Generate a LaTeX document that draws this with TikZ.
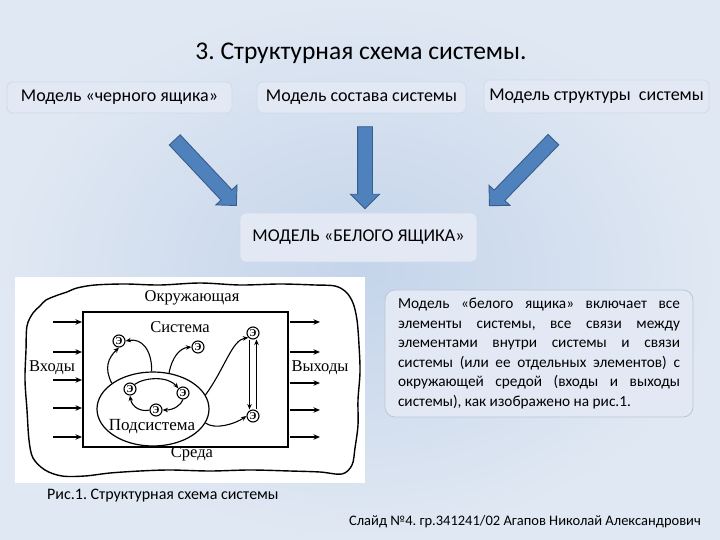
\documentclass[tikz,border=0pt]{standalone}
\usepackage{fontspec}
\setmainfont{Carlito}
\newfontfamily\figfont{Liberation Serif}
\usetikzlibrary{shapes.geometric,shapes.arrows,arrows.meta}
\definecolor{bgin}{RGB}{196,212,234}
\definecolor{bgout}{RGB}{224,232,243}
\definecolor{boxfill}{RGB}{226,233,244}
\definecolor{boxline}{RGB}{208,218,233}
\definecolor{descline}{RGB}{188,198,214}
\definecolor{arrfill}{RGB}{79,129,189}
\definecolor{arrline}{RGB}{56,93,138}
\frenchspacing
\begin{document}
\begin{tikzpicture}[x=1pt,y=-1pt,
  modelbox/.style={draw=boxline, fill=boxfill, rounded corners=6pt, line width=0.8pt, inner sep=0pt, font=\fontsize{18}{21}\selectfont},
  bigarrow/.style={single arrow, draw=arrline, fill=arrfill, line width=0.9pt, inner xsep=0pt, inner ysep=7pt, single arrow head extend=7pt, single arrow tip angle=90},
  figtext/.style={inner sep=0pt, font=\figfont\fontsize{16.5}{17}\selectfont},
  elem/.style={circle, draw, line width=1.1pt, minimum size=12pt, inner sep=0pt, font=\figfont\bfseries\fontsize{10.5}{10.5}\selectfont},
  fline/.style={line width=1.1pt, -{Stealth[length=5.5pt,width=4.5pt]}},
  inarrow/.style={line width=1.3pt, -{Stealth[length=6.5pt,width=5.5pt]}}
]
\useasboundingbox (0,0) rectangle (720,540);
\shade[inner color=bgin, outer color=bgout] (0,0) rectangle (720,540);

% title and model boxes
\node[font=\fontsize{25.5}{30}\selectfont] (title) at (361,53) {3. Структурная схема системы.};
\node[modelbox, minimum width=225pt, minimum height=31pt] (m1) at (119.5,97.5) {Модель «черного ящика»};
\node[modelbox, minimum width=209pt, minimum height=31pt] (m2) at (361.5,97.5) {Модель состава системы};
\node[modelbox, minimum width=225pt, minimum height=33pt] (m3) at (596.5,96.5) {Модель структуры\ \ системы};
\node[modelbox, minimum width=237pt, minimum height=49pt] (white) at (358.5,237.5) {МОДЕЛЬ «БЕЛОГО ЯЩИКА»};

% block arrows
\node[bigarrow, minimum height=90pt, rotate=-46.8] (a1) at (203,170) {};
\node[bigarrow, minimum height=82pt, rotate=-90] (a2) at (365,164) {};
\node[bigarrow, minimum height=92pt, rotate=-134.1] (a3) at (524,170) {};

% description
\node[draw=descline, fill=boxfill, rounded corners=10pt, line width=0.8pt,
      minimum width=308pt, minimum height=127pt, inner sep=0pt,
      text width=282pt, align=justify, font=\fontsize{15.3}{19.6}\selectfont] (desc) at (539,353.5)
{\noindent Модель «белого ящика» включает все\linebreak
элементы системы, все связи между\linebreak
элементами внутри системы и связи\linebreak
системы (или ее отдельных элементов) с\linebreak
окружающей средой (входы и выходы\linebreak
системы), как изображено на рис.1.};

% figure
\fill[white] (15,277) rectangle (365,483);
\draw[line width=1.4pt] plot[smooth cycle, tension=0.55] coordinates {
 (27,326) (33,313) (40,306) (46,300) (58,295) (67,292) (77,288) (95,285) (125,284)
 (160,285) (200,283) (240,285) (280,284) (315,285) (335,286) (346,292) (353,303)
 (357,320) (359,345) (360,372) (358,400) (358,425) (355,448) (352,465) (342,474)
 (320,472) (290,471) (250,470) (210,471) (170,470) (140,471) (110,473) (85,476)
 (62,476) (45,470) (33,458) (29,440) (27,410) (25,380) (26,350)};
\node[draw, line width=1.6pt, minimum width=205pt, minimum height=135pt, inner sep=0pt] (sys) at (185.5,379.5) {};
\node[ellipse, draw, line width=1.2pt, minimum width=112pt, minimum height=74pt, inner sep=0pt] (sub) at (153,409) {};

\node[figtext] (envtop) at (192,298) {Окружающая};
\node[figtext] (envbot) at (192,454) {Среда};
\node[figtext] (systxt) at (180,327) {Система};
\node[figtext] (inp) at (52,368) {Входы};
\node[figtext] (outp) at (320,368) {Выходы};
\node[figtext, font=\figfont\fontsize{17}{17}\selectfont] (subtxt) at (152,427) {Подсистема};

\node[elem] (e1) at (119,341) {Э};
\node[elem] (e2) at (198,347) {Э};
\node[elem] (e3) at (253,333) {Э};
\node[elem] (e4) at (253,416) {Э};
\node[elem] (e5) at (130,389) {Э};
\node[elem] (e6) at (183,393) {Э};
\node[elem] (e7) at (156,410) {Э};

\foreach \y [count=\i] in {322,352,380,408,437}{
  \coordinate (in\i s) at (53,\y); \coordinate (in\i e) at (82,\y);
  \draw[inarrow] (in\i s) -- (in\i e);
}
\foreach \y [count=\i] in {322,352,383,410,437}{
  \coordinate (out\i s) at (290,\y); \coordinate (out\i e) at (320,\y);
  \draw[inarrow] (out\i s) -- (out\i e);
}

\draw[fline] (sub.148) .. controls (104,368) and (108,358) .. (e1.south);
\draw[fline] (sub.92) .. controls (152,350) and (142,338) .. (e1.east);
\draw[fline] (sub.66) .. controls (172,357) and (180,348) .. (e2.west);
\draw[fline] (sub.15) .. controls (225,368) and (232,340) .. (e3.south west);
\draw[fline] (sub.-15) .. controls (215,430) and (235,424) .. (e4.west);
\draw[fline] ([xshift=-3.5pt]e3.south) -- ([xshift=-3.5pt]e4.north);
\draw[fline] ([xshift=3.5pt]e4.north) -- ([xshift=3.5pt]e3.south);
\draw[fline] (e5.north east) .. controls (145,377) and (168,376) .. (e6.north west);
\draw[fline] (e6.south) .. controls (181,405) and (174,410) .. (e7.east);
\draw[fline] (e7.west) .. controls (142,412) and (132,408) .. (e5.south);

% captions
\node[font=\fontsize{16}{18}\selectfont, anchor=west, inner sep=0pt] (cap) at (47,496) {Рис.1. Структурная схема системы};
\node[font=\fontsize{14.5}{17}\selectfont, anchor=east, inner sep=0pt] (foot) at (701,522) {Слайд №4. гр.341241/02 Агапов Николай Александрович};
\end{tikzpicture}
\end{document}
